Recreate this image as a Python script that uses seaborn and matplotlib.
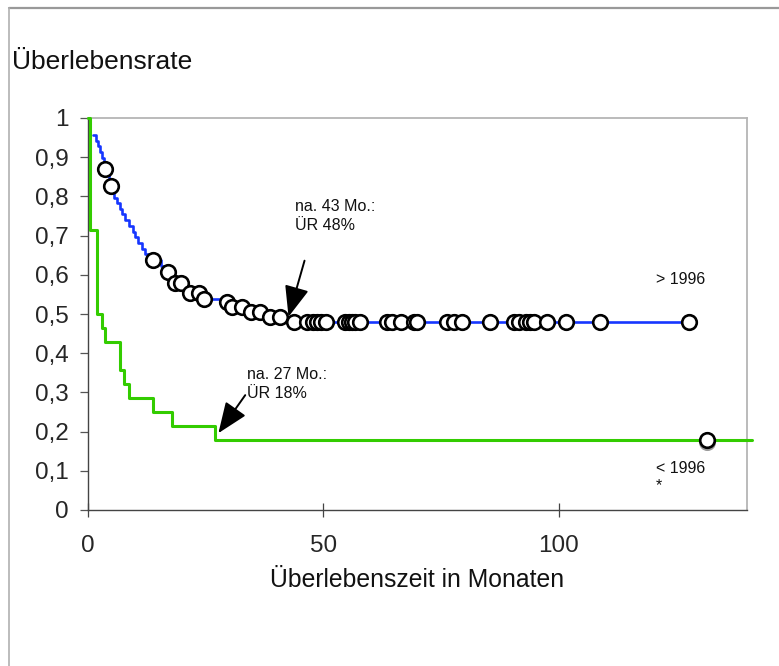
import numpy as np
import pandas as pd
import matplotlib
matplotlib.use("Agg")
import matplotlib.pyplot as plt
from matplotlib.lines import Line2D
from matplotlib.transforms import offset_copy
import seaborn as sns

# ---------------- data ----------------
# Kaplan-Meier step curve, diagnosis after 1996 (blue)
blue_times = [1.1, 1.6, 2.1, 2.6, 3.0, 3.3, 3.5, 4.1, 4.5, 4.7, 5.2, 5.6, 6.2, 6.7,
              7.3, 7.9, 8.8, 9.6, 10.0, 10.7, 11.4, 12.1, 12.8, 15.5, 16.5, 17.8,
              18.3, 20.5, 21.2, 24.3, 29.0, 30.2, 34.2, 38.3, 43.0, 127.7]
blue_values = [0.957, 0.942, 0.928, 0.913, 0.899, 0.884, 0.870, 0.855, 0.841, 0.826,
               0.812, 0.797, 0.783, 0.768, 0.754, 0.739, 0.725, 0.710, 0.696, 0.681,
               0.667, 0.652, 0.638, 0.623, 0.608, 0.594, 0.580, 0.566, 0.553, 0.538,
               0.530, 0.519, 0.506, 0.493, 0.480, 0.480]
# censored observations (circles) on the blue curve
blue_censored = [3.6, 4.8, 13.8, 16.9, 18.5, 19.7, 21.7, 23.6, 24.7, 29.5, 30.6, 32.7,
                 34.6, 36.6, 38.7, 40.7, 43.7, 46.5, 47.9, 48.6, 49.4, 50.6, 54.7,
                 55.4, 56.1, 56.8, 57.7, 63.5, 64.6, 66.5, 69.2, 69.9, 76.3, 77.7,
                 79.5, 85.5, 90.5, 91.6, 93.0, 94.0, 94.8, 97.6, 101.5, 108.7, 127.7]

# Kaplan-Meier step curve, diagnosis before 1996 (green)
green_times = [0.0, 0.5, 1.9, 2.9, 3.6, 6.8, 7.7, 8.8, 13.8, 17.8, 26.9, 141.0]
green_values = [1.0, 0.714, 0.500, 0.464, 0.429, 0.357, 0.321, 0.286, 0.250, 0.214,
                0.179, 0.179]
green_censored = [131.5]

y_ticks = [0, 0.1, 0.2, 0.3, 0.4, 0.5, 0.6, 0.7, 0.8, 0.9, 1.0]
y_ticklabels = ["0", "0,1", "0,2", "0,3", "0,4", "0,5", "0,6", "0,7", "0,8", "0,9", "1"]
x_ticks = [0, 50, 100]
x_ticklabels = ["0", "50", "100"]


def step_value(times, values, t):
    idx = np.searchsorted(np.asarray(times), t, side="right") - 1
    return np.asarray(values)[idx]


blue_df = pd.DataFrame({"t": blue_times, "s": blue_values})
green_df = pd.DataFrame({"t": green_times, "s": green_values})
blue_cens_df = pd.DataFrame({"t": blue_censored,
                             "s": step_value(blue_times, blue_values, blue_censored)})
green_cens_df = pd.DataFrame({"t": green_censored,
                              "s": step_value(green_times, green_values, green_censored)})

# ---------------- style ----------------
sns.set_theme(style="white")
plt.rcParams["font.family"] = ["Liberation Sans", "DejaVu Sans"]

BLUE = "#1636ff"
GREEN = "#33cc00"

fig = plt.figure(figsize=(7.79, 6.66), dpi=100)
ax = fig.add_axes([88 / 779, 1 - 510 / 666, (747 - 88) / 779, (510 - 118) / 666])

sns.lineplot(data=green_df, x="t", y="s", drawstyle="steps-post", estimator=None,
             sort=False, color=GREEN, linewidth=2.2, ax=ax, zorder=3)
ax.lines[-1].set_clip_on(False)
sns.lineplot(data=blue_df, x="t", y="s", drawstyle="steps-post", estimator=None,
             sort=False, color=BLUE, linewidth=1.9, ax=ax, zorder=4)

# shadow of the green censor mark
sns.scatterplot(data=green_cens_df, x="t", y="s", s=110, color="#9a9a9a",
                edgecolor="#9a9a9a", linewidth=1.8, ax=ax, zorder=5, legend=False)
ax.collections[-1].set_offset_transform(
    offset_copy(ax.transData, fig=fig, x=0.5, y=-2.5, units="dots"))
sns.scatterplot(data=green_cens_df, x="t", y="s", s=110, color="white",
                edgecolor="black", linewidth=1.9, ax=ax, zorder=6, legend=False)
sns.scatterplot(data=blue_cens_df, x="t", y="s", s=110, color="white",
                edgecolor="black", linewidth=1.9, ax=ax, zorder=6, legend=False)

ax.set_xlim(0, 140)
ax.set_ylim(0, 1)
ax.set_xticks(x_ticks)
ax.set_xticklabels(x_ticklabels)
ax.set_yticks(y_ticks)
ax.set_yticklabels(y_ticklabels)
ax.tick_params(axis="x", direction="inout", length=10, width=0.9, color="#444444",
               labelsize=17.5, pad=13, bottom=True)
ax.tick_params(axis="y", direction="out", length=6, width=0.9, color="#555555",
               labelsize=17.5, pad=8, left=True)

for side in ["left", "bottom"]:
    ax.spines[side].set_color("#444444")
    ax.spines[side].set_linewidth(1.0)
for side in ["top", "right"]:
    ax.spines[side].set_color("#b5b5b5")
    ax.spines[side].set_linewidth(1.3)

ax.set_xlabel("Überlebenszeit in Monaten", fontsize=17.8, labelpad=8, color="#111111")
ax.set_ylabel("")
fig.text(12 / 779, 1 - 62 / 666, "Überlebensrate", fontsize=19, ha="left",
         va="center", color="#111111")

# annotations
arrow_kw = dict(arrowstyle="-|>,head_length=0.5,head_width=0.2", color="black",
                lw=1.4, mutation_scale=38, shrinkA=0, shrinkB=0)
ax.annotate("", xy=(42.6, 0.493), xytext=(46.0, 0.636), arrowprops=arrow_kw, zorder=7)
ax.annotate("", xy=(27.7, 0.196), xytext=(33.4, 0.293), arrowprops=arrow_kw, zorder=7)
ax.text(44.0, 0.75, "na. 43 Mo.:\nÜR 48%", fontsize=11.5, ha="left", va="center",
        linespacing=1.3, color="#111111")
ax.text(33.8, 0.321, "na. 27 Mo.:\nÜR 18%", fontsize=11.5, ha="left", va="center",
        linespacing=1.3, color="#111111")
ax.text(120.6, 0.589, "> 1996", fontsize=11.5, ha="left", va="center", color="#111111")
ax.text(120.6, 0.125, "< 1996\n*", fontsize=11.5, ha="left", va="top",
        linespacing=1.2, color="#111111")

# outer figure frame (top and left edges visible)
fig.add_artist(Line2D([9 / 779, 1.0], [1 - 7.5 / 666, 1 - 7.5 / 666],
                      transform=fig.transFigure, color="#999999", lw=1.6))
fig.add_artist(Line2D([9 / 779, 9 / 779], [0.0, 1 - 7.5 / 666],
                      transform=fig.transFigure, color="#b0b0b0", lw=1.2))

fig.savefig("out.png", dpi=100)
